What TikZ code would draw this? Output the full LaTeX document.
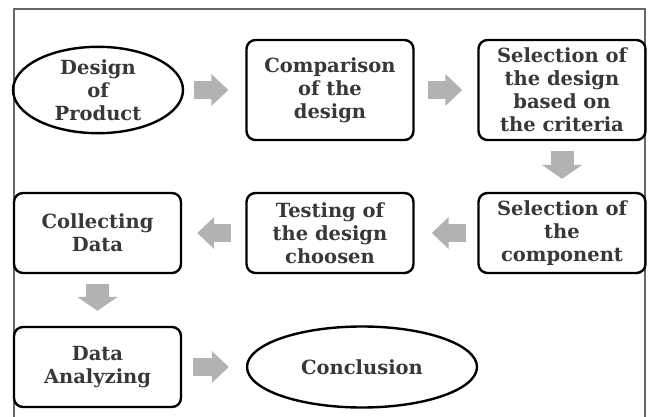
\documentclass[tikz,border=0pt]{standalone}
\usepackage{fontspec}
\setmainfont{DejaVu Serif}
\usepackage{tikz}
\usetikzlibrary{arrows.meta,positioning,shapes.geometric}
\tikzset{
  box/.style={rectangle, draw, line width=2.4pt, rounded corners=9pt, align=center,
    inner sep=0pt, minimum width=167pt, minimum height=80pt},
  oval/.style={ellipse, draw, line width=2.4pt, align=center, inner sep=0pt},
  txt/.style={font=\fontsize{19.5}{23}\selectfont\bfseries, text=black!78},
  flow/.style={draw=gray!60, line width=18pt, -{Triangle[length=17pt,width=31pt]}},
  flowv/.style={draw=gray!60, line width=23pt, -{Triangle[length=14pt,width=40pt]}},
  frame/.style={draw=black!60, line width=1.6pt}
}
\begin{document}
\begin{tikzpicture}[x=1pt, y=-1pt]
    \useasboundingbox (0,0) rectangle (649,417);

    % Frame (no bottom side)
    \draw[frame] (14,417) -- (14,9) -- (645,9) -- (645,417);

    % First row
    \node[oval, txt, minimum width=170pt, minimum height=81pt] (dop) at (98,90) {Design\\of\\Product};
    \node[box, txt, minimum height=100pt] (cmp) at (330,90) {Comparison\\of the\\design};
    \node[box, txt, minimum height=100pt] (sel) at (562,90) {Selection of\\the design\\based on\\the criteria};

    % Second row
    \node[box, txt] (comp) at (562,233) {Selection of\\the\\component};
    \node[box, txt] (test) at (330,233) {Testing of\\the design\\choosen};
    \node[box, txt] (coll) at (97.5,233) {Collecting\\Data};

    % Third row
    \node[box, txt] (ana) at (97.5,367) {Data\\Analyzing};
    \node[oval, txt, minimum width=230pt, minimum height=81pt] (con) at (362,367) {Conclusion};

    % Block arrows
    \foreach \a/\b/\s/\e in {dop/cmp/10/17, cmp/sel/13/15, comp/test/11/17,
                             test/coll/14/15, ana/con/11/17} {
        \draw[flow, shorten <=\s pt, shorten >=\e pt] (\a) -- (\b);
    }
    \draw[flowv, shorten <=10pt, shorten >=13pt] (sel) -- (comp);
    \draw[flowv, shorten <=10pt, shorten >=15pt] (coll) -- (ana);

\end{tikzpicture}
\end{document}
